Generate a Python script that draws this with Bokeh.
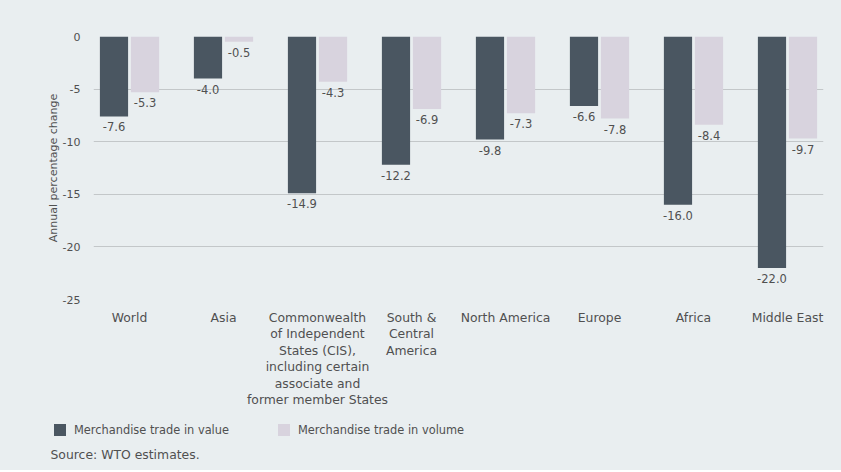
from bokeh.plotting import figure
from bokeh.layouts import column
from bokeh.models import ColumnDataSource, Range1d, FixedTicker, Legend, LegendItem, Label
from bokeh.transform import dodge
from bokeh.embed import file_html
from bokeh.resources import INLINE
from bokeh.core.properties import value

# ---- data ----
regions = [
    "World",
    "Asia",
    "Commonwealth\nof Independent\nStates (CIS),\nincluding certain\nassociate and\nformer member States",
    "South &\nCentral\nAmerica",
    "North America",
    "Europe",
    "Africa",
    "Middle East",
]
trade_value = [-7.6, -4.0, -14.9, -12.2, -9.8, -6.6, -16.0, -22.0]
trade_volume = [-5.3, -0.5, -4.3, -6.9, -7.3, -7.8, -8.4, -9.7]
y_ticks = [0, -5, -10, -15, -20, -25]
series_names = ["Merchandise trade in value", "Merchandise trade in volume"]
source_note = "Source: WTO estimates."

# ---- style ----
BG = "#e9eef0"
DARK = "#4a5661"
LIGHT = "#d8d3de"
TXT = "#505050"
FONT = "DejaVu Sans"
W = 841

pos = list(range(len(regions)))
src = ColumnDataSource(dict(
    x=pos,
    val=trade_value,
    vol=trade_volume,
    val_lbl=[f"{v:.1f}" for v in trade_value],
    vol_lbl=[f"{v:.1f}" for v in trade_volume],
))

p = figure(width=W, height=415, output_backend="svg", toolbar_location=None,
           x_range=Range1d(-0.383, len(regions) - 1 + 0.383),
           y_range=Range1d(min(y_ticks), max(y_ticks)),
           min_border_left=93, min_border_right=18, min_border_top=36, min_border_bottom=116,
           background_fill_color=BG, border_fill_color=BG, outline_line_color=None)

off = 0.165
w = 0.30
r1 = p.vbar(x=dodge("x", -off, range=p.x_range), bottom=0, top="val", width=w,
            source=src, fill_color=DARK, line_color=None)
r2 = p.vbar(x=dodge("x", off, range=p.x_range), bottom=0, top="vol", width=w,
            source=src, fill_color=LIGHT, line_color=None)

for col, lbl, o in (("val", "val_lbl", -off), ("vol", "vol_lbl", off)):
    p.text(x=dodge("x", o, range=p.x_range), y=col, text=lbl, source=src,
           text_align="center", text_baseline="top", y_offset=6,
           text_font=value(FONT), text_font_size="11.5px", text_color=TXT)

# grid
p.xgrid.visible = False
p.ygrid.grid_line_color = "#c3c7c9"
p.ygrid.grid_line_width = 1
p.ygrid.ticker = FixedTicker(ticks=y_ticks)

# y axis
p.yaxis.ticker = FixedTicker(ticks=y_ticks)
p.yaxis.major_label_overrides = {t: str(t) for t in y_ticks}
p.yaxis.axis_line_color = None
p.yaxis.major_tick_line_color = None
p.yaxis.minor_tick_line_color = None
p.yaxis.major_label_standoff = 7
p.yaxis.major_label_text_font = FONT
p.yaxis.major_label_text_font_size = "11px"
p.yaxis.major_label_text_color = TXT
p.yaxis.axis_label = "Annual percentage change"
p.yaxis.axis_label_text_font = FONT
p.yaxis.axis_label_text_font_size = "11px"
p.yaxis.axis_label_text_font_style = "normal"
p.yaxis.axis_label_text_color = TXT
p.yaxis.axis_label_standoff = 0

# x axis
p.xaxis.ticker = FixedTicker(ticks=pos)
p.xaxis.major_label_overrides = {i: r for i, r in zip(pos, regions)}
p.xaxis.axis_line_color = None
p.xaxis.major_tick_line_color = None
p.xaxis.minor_tick_line_color = None
p.xaxis.major_label_standoff = 4
p.xaxis.major_label_text_font = FONT
p.xaxis.major_label_text_font_size = "12.4px"
p.xaxis.major_label_text_color = TXT
p.xaxis.major_label_text_line_height = 1.1

# ---- legend + source strip ----
LH = 55
q = figure(width=W, height=LH, output_backend="svg", toolbar_location=None,
           x_axis_type=None, y_axis_type=None,
           x_range=Range1d(0, W), y_range=Range1d(0, LH),
           min_border=0, min_border_left=0, min_border_right=0,
           min_border_top=0, min_border_bottom=0,
           background_fill_color=BG, border_fill_color=BG, outline_line_color=None)
for fig in (p, q):
    if hasattr(fig, "frame_align"):
        fig.frame_align = False

# legend keys: same data, drawn below this strip's visible area (values are negative)
k1 = q.vbar(x="x", bottom=0, top="val", width=0.3, source=src, fill_color=DARK, line_color=None)
k2 = q.vbar(x="x", bottom=0, top="vol", width=0.3, source=src, fill_color=LIGHT, line_color=None)
legend = Legend(items=[LegendItem(label=series_names[0], renderers=[k1]),
                       LegendItem(label=series_names[1], renderers=[k2])],
                location=(52, 33), orientation="horizontal",
                background_fill_alpha=0, border_line_alpha=0,
                glyph_width=15, glyph_height=15, padding=0, margin=0,
                label_standoff=7, spacing=47,
                label_text_font=FONT, label_text_font_size="11.4px",
                label_text_color=TXT)
q.add_layout(legend)
q.add_layout(Label(x=50, y=16, x_units="screen", y_units="screen", text=source_note,
                   text_font=FONT, text_font_size="12.4px", text_color=TXT,
                   text_baseline="middle"))

layout = column(p, q, spacing=0, styles={"background-color": BG})
open("out.html", "w").write(file_html(layout, INLINE))
